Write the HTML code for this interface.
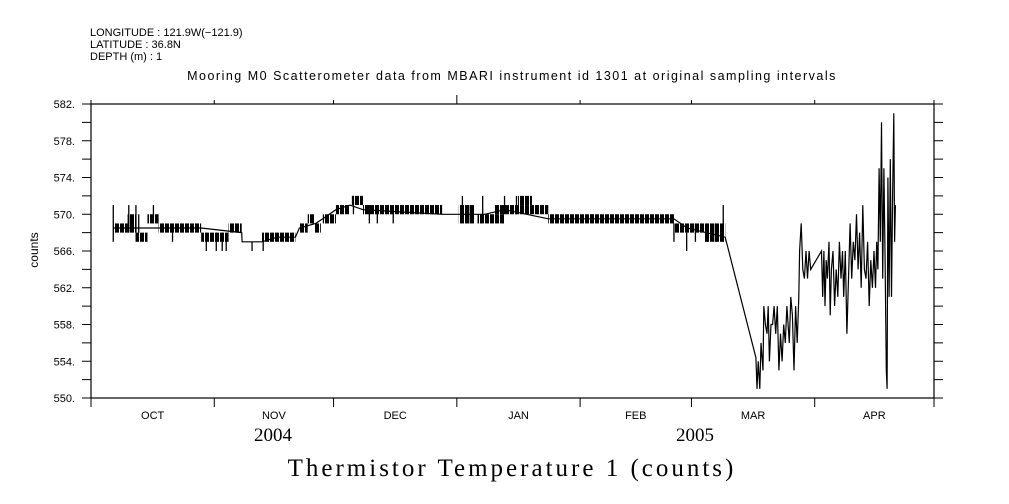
<!DOCTYPE html>
<html><head><meta charset="utf-8"><style>
html,body{margin:0;padding:0;background:#fff;}
svg{display:block;font-family:"Liberation Sans",sans-serif;}
</style></head><body>
<svg id="chart" width="1009" height="504" viewBox="0 0 1009 504">
<defs>
<pattern id="stripes" patternUnits="userSpaceOnUse" width="5" height="10">
<rect x="0" y="0" width="4" height="10" fill="#000"/>
</pattern>
</defs>
<g font-size="11" fill="#000">
<text x="90" y="36">LONGITUDE : 121.9W(−121.9)</text>
<text x="90" y="48">LATITUDE : 36.8N</text>
<text x="90" y="60">DEPTH (m) : 1</text>
</g>
<text x="512" y="80" font-size="12.5" letter-spacing="1.5" text-anchor="middle">Mooring M0 Scatterometer data from MBARI instrument id 1301 at original sampling intervals</text>
<g id="axes"></g>
<g id="marks"></g>
<text x="38" y="250" font-size="12" text-anchor="middle" transform="rotate(-90 38 250)">counts</text>
<text x="273" y="441" font-size="19" font-family="Liberation Serif, serif" text-anchor="middle">2004</text>
<text x="695" y="441" font-size="19" font-family="Liberation Serif, serif" text-anchor="middle">2005</text>
<text x="512" y="476" font-size="25" letter-spacing="3" font-family="Liberation Serif, serif" text-anchor="middle">Thermistor Temperature 1 (counts)</text>
</svg>
<script>
const monthLabels=["OCT","NOV","DEC","JAN","FEB","MAR","APR"];
const monthStarts=[0,31,61,92,123,151,182,212];
const yTicks=[550,554,558,562,566,570,574,578,582];
const bandStart=[5.6,9.2,11.2,14.2,17.0,27.7,34.6,43.0,52.4,54.5,56.3,58.3,61.6,65.6,68.4,92.5,97.2,101.5,107.4,115.0,146.6,154.2];
const bandEnd=[9.2,11.2,14.2,17.0,27.7,34.6,37.9,51.4,54.5,56.3,57.8,61.6,65.1,68.4,88.3,96.4,104.1,115.0,110.9,146.6,154.2,159.5];
const bandLo=[568,568,567,569,568,567,568,567,568,569,568,569,570,571,570,569,569,570,571,569,568,567];
const bandHi=[569,570,568,570,569,568,569,568,569,570,569,570,571,572,571,571,570,571,572,570,569,569];
const spikeDay=[5.6,9.5,11.3,12,15.7,20.5,29,31.5,33,34,40.5,43.3,66,70,72,76,93.4,95,98.5,104,107,126,146.6,149.8,152,155,157,159];
const spikeLo=[567,568,568,568,569,567,566,566,566,566,566,566,570,569,569,569,570,569,570,570,570,569,567,566,567,567,567,567];
const spikeHi=[571,571,571,570,571,569,568,568,568,568,567,567,572,571,571,571,572,571,572,572,572,570,569,568,569,569,569,571];
const lineDay=[5.6,9.2,14.2,22.6,27.7,37.9,38,43,46.8,51.4,52.4,56.5,58.3,61.6,65.1,68.4,88.3,93.4,99,104,115,146.6,149.9,159.5,167.2,167.5,167.8,168.2,168.5,169,169.2,169.6,170,170.3,170.6,171,171.4,171.8,172.2,172.6,173,173.4,173.8,174.2,174.6,175,175.3,175.6,176,176.4,176.8,177.2,177.6,178,178.2,178.6,179,179.4,179.8,180.2,180.6,181,183.7,184,184.3,184.6,184.9,185.2,185.6,185.9,186.2,186.6,187,187.4,187.8,188.2,188.6,189,189.3,189.7,190.1,190.5,190.9,191.3,191.7,192.1,192.5,192.9,193.3,193.7,194.1,194.5,194.9,195.3,195.7,196.1,196.5,196.9,197.3,197.6,197.9,198.2,198.5,198.8,199.1,199.4,199.7,200,200.2,200.4,200.7,201,201.3,201.6,201.9,202.1,202.3];
const lineVal=[568.5,568.5,568.5,568.5,568.5,568,567,567,567.5,567.5,568.5,569,569.5,570.5,571,570.5,570,570,570,570.5,569.5,569.5,568.5,567.5,554.4,551,554,551,556,553,560,558,557,560,554,558,558,560,557,560,553,557,554,558,556,560,558,556,561,559,553,560,556,561,566,569,564,563,566,563,566,564,566,561,566,560,565,563,567,559,564,566,560,564,561,567,563,566,561,566,557,563,569,563,567,565,570,564,568,562,571,564,563,567,560,565,562,566,562,567,564,575,567,580,563,575,565,553,551,574,561,576,561,572,581,567,571];

const L=91,R=934,T=104,B=398,D0=0,D1=212,V0=550,V1=582;
const xs=d=>L+(d-D0)/(D1-D0)*(R-L);
const ys=v=>B-(v-V0)/(V1-V0)*(B-T);
const NS="http://www.w3.org/2000/svg";
function mk(tag,attrs,parent){const e=document.createElementNS(NS,tag);for(const k in attrs)e.setAttribute(k,attrs[k]);parent.appendChild(e);return e;}
const axes=document.getElementById('axes'),marks=document.getElementById('marks');
const frame=mk('rect',{x:L,y:T,width:R-L,height:B-T,fill:'none',stroke:'#000','stroke-width':1.2},axes);


for(let v=V0;v<=V1;v+=2){
  const y=ys(v);
  const t1=mk('line',{x1:L-9,x2:L,y1:y,y2:y,stroke:'#000'},axes);
  
  
  const t2=mk('line',{x1:R,x2:R+9,y1:y,y2:y,stroke:'#000'},axes);
  
  
}
yTicks.forEach(v=>{
  const t=mk('text',{x:75,y:ys(v)+4,'font-size':11,'text-anchor':'end'},axes);
  t.textContent=v.toFixed(0)+'.';
  
  
});
monthStarts.forEach((d,i)=>{
  const x=xs(d);
  const b=mk('line',{x1:x,x2:x,y1:B,y2:B+9,stroke:'#000'},axes);
  
  
  const tl=(d===92)?9:4;
  const t=mk('line',{x1:x,x2:x,y1:T-tl,y2:T,stroke:'#000'},axes);
  
  
  if(i<monthLabels.length){
    const lb=mk('text',{x:(x+xs(monthStarts[i+1]))/2,y:419,'font-size':11,'text-anchor':'middle'},axes);
    lb.textContent=monthLabels[i];
    
    
  }
});
bandStart.forEach((s,i)=>{
  const r=mk('rect',{x:xs(s),y:ys(bandHi[i]),width:xs(bandEnd[i])-xs(s),height:ys(bandLo[i])-ys(bandHi[i]),fill:'url(#stripes)'},marks);
  
  
});
spikeDay.forEach((d,i)=>{
  const l=mk('line',{x1:xs(d),x2:xs(d),y1:ys(spikeLo[i]),y2:ys(spikeHi[i]),stroke:'#000','stroke-width':1.3},marks);
  
  
});
let dpath='';
lineDay.forEach((d,i)=>{dpath+=(i?'L':'M')+xs(d).toFixed(1)+','+ys(lineVal[i]).toFixed(1);});
const pl=mk('path',{d:dpath,fill:'none',stroke:'#000','stroke-width':1.2},marks);


</script>
</body></html>
